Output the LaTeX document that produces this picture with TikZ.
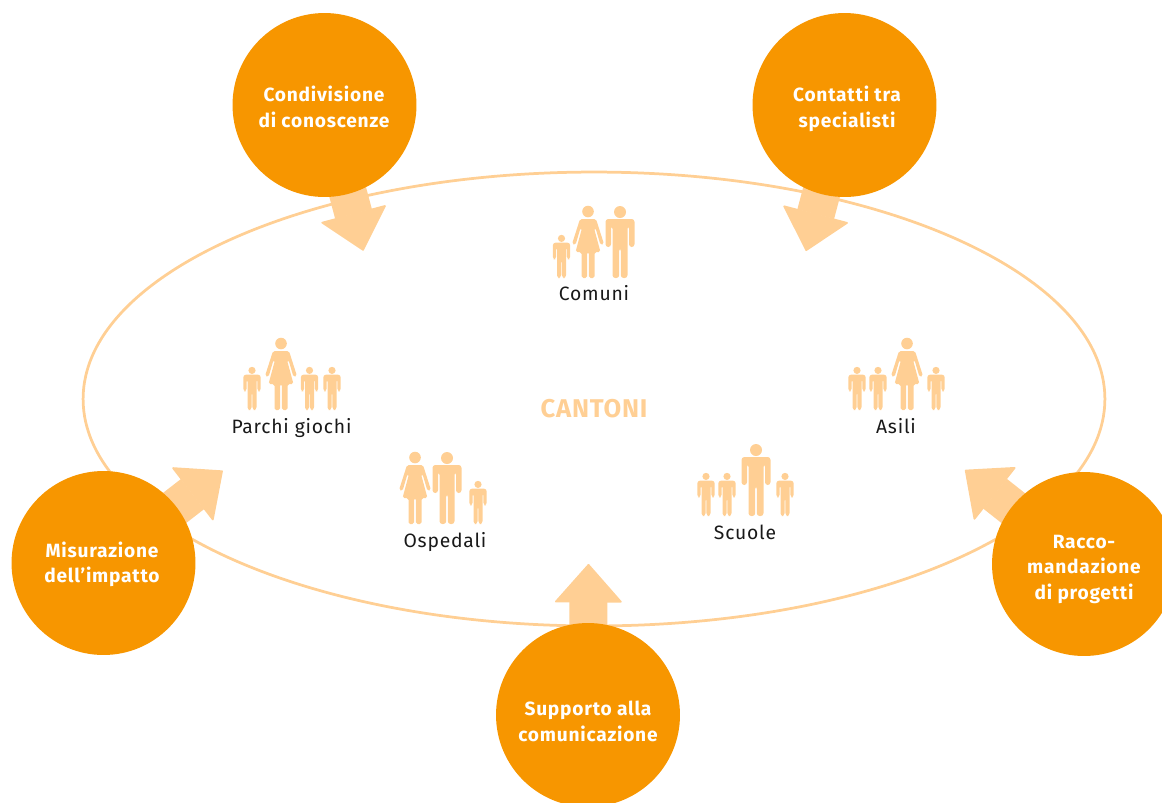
\documentclass[tikz,border=0pt]{standalone}
\usepackage{fontspec}
\setmainfont{Fira Sans}
\usetikzlibrary{shapes.geometric}
\usetikzlibrary{arrows.meta}
\usetikzlibrary{backgrounds}
\definecolor{darkorange}{HTML}{F79600}
\definecolor{lightorange}{HTML}{FFCF94}
\tikzset{
  service/.style={circle, fill=darkorange, minimum size=3.68cm, inner sep=0pt},
  servicetext/.style={align=center, text=white, inner sep=0pt,
    font=\fontsize{10.9}{14.5}\selectfont\bfseries\addfontfeatures{LetterSpace=4}},
  group/.style={text=black!90, font=\fontsize{11}{13}\selectfont\addfontfeatures{LetterSpace=4}},
  blockarrow/.style={line width=0.76cm, draw=lightorange, -{Triangle[round, length=0.78cm, width=1.37cm, line width=1pt, fill=lightorange]}},
  man/.pic={
    \fill (0,-66) circle[radius=6];
    \fill[rounded corners=1.6pt] (-14.5,-59) -- (14.5,-59) -- (14.5,-31) -- (9,-31) -- (9,-52) -- (7.5,-52) -- (7.5,0)
      -- (0.8,0) -- (0.8,-30) -- (-0.8,-30) -- (-0.8,0) -- (-7.5,0) -- (-7.5,-52) -- (-9,-52) -- (-9,-31) -- (-14.5,-31) -- cycle;
  },
  woman/.pic={
    \fill (0,-66.5) circle[radius=5.8];
    \fill[rounded corners=1pt] (-8,-59) -- (8,-59) -- (16,-34) -- (12.5,-33) -- (7.5,-50) -- (6,-50) -- (12.5,-26) -- (6.5,-26) -- (6.5,0)
      -- (0.8,0) -- (0.8,-26) -- (-0.8,-26) -- (-0.8,0) -- (-6.5,0) -- (-6.5,-26) -- (-12.5,-26) -- (-6,-50) -- (-7.5,-50) -- (-12.5,-33) -- (-16,-34) -- cycle;
  },
  child/.pic={
    \pic[scale=0.6] {man};
  },
}

\begin{document}
\begin{tikzpicture}[x=0.02cm, y=-0.02cm]
  \path[clip, use as bounding box] (0,0) rectangle (1162,802);
  % \draw[gray, very thin, step=100] (0,0) grid (1162,802);

  \node[service] (condivisione) at (324.5,105) {};
  \node[service] (contatti) at (844.5,105) {};
  \node[service] (misurazione) at (103.5,563) {};
  \node[service] (raccomandazione) at (1084,564) {};
  \node[service] (supporto) at (588,715) {};

  \node[servicetext] (condivisionetext) at (324,107) {Condivisione\\di conoscenze};
  \node[servicetext] (contattitext) at (847,109) {Contatti tra\\specialisti};
  \node[servicetext] (misurazionetext) at (102,564.5) {Misurazione\\dell’impatto};
  \node[servicetext] (raccomandazionetext) at (1084,569) {Racco-\\mandazione\\di progetti};
  \node[servicetext] (supportotext) at (588,721.5) {Supporto alla\\comunicazione};

  \coordinate (tipcondivisione) at (363.3,250.7);
  \coordinate (tipcontatti) at (806,251);
  \coordinate (tipmisurazione) at (222.7,470.7);
  \coordinate (tipraccomandazione) at (965,470);
  \coordinate (tipsupporto) at (588.5,564);

  \begin{pgfonlayer}{background}
    \node[name=cantoni, ellipse, draw=lightorange, line width=0.055cm, minimum width=20.44cm, minimum height=9.08cm, inner sep=0pt] at (594,399) {};
    \draw[blockarrow] (condivisione.center) -- (tipcondivisione);
    \draw[blockarrow] (contatti.center) -- (tipcontatti);
    \draw[blockarrow] (misurazione.center) -- (tipmisurazione);
    \draw[blockarrow] (raccomandazione.center) -- (tipraccomandazione);
    \draw[blockarrow] (supporto.center) -- (tipsupporto);
  \end{pgfonlayer}

  \node[text=lightorange, font=\fontsize{14.6}{16}\selectfont\bfseries\addfontfeatures{LetterSpace=3}] (centro) at (594,409) {CANTONI};

  \begin{scope}[lightorange]
    % comuni
    \pic at (561.5,278) {child};
    \pic at (588,278) {woman};
    \pic at (620,278) {man};
    % parchi giochi
    \pic at (252,410) {child};
    \pic at (281,410) {woman};
    \pic at (309.5,410) {child};
    \pic at (332,410) {child};
    % asili
    \pic at (857,410) {child};
    \pic at (878,410) {child};
    \pic at (907,410) {woman};
    \pic at (936,410) {child};
    % scuole
    \pic at (706,516) {child};
    \pic at (727,516) {child};
    \pic at (756,516) {man};
    \pic at (785,516) {child};
    % ospedali
    \pic at (415,524) {woman};
    \pic at (447,524) {man};
    \pic at (478,524) {child};
  \end{scope}

  \node[group] (comuni) at (594,293) {Comuni};
  \node[group] (parchi) at (291.5,428) {Parchi giochi};
  \node[group] (asili) at (896,426) {Asili};
  \node[group] (scuole) at (745,532) {Scuole};
  \node[group] (ospedali) at (445,542) {Ospedali};
\end{tikzpicture}
\end{document}
